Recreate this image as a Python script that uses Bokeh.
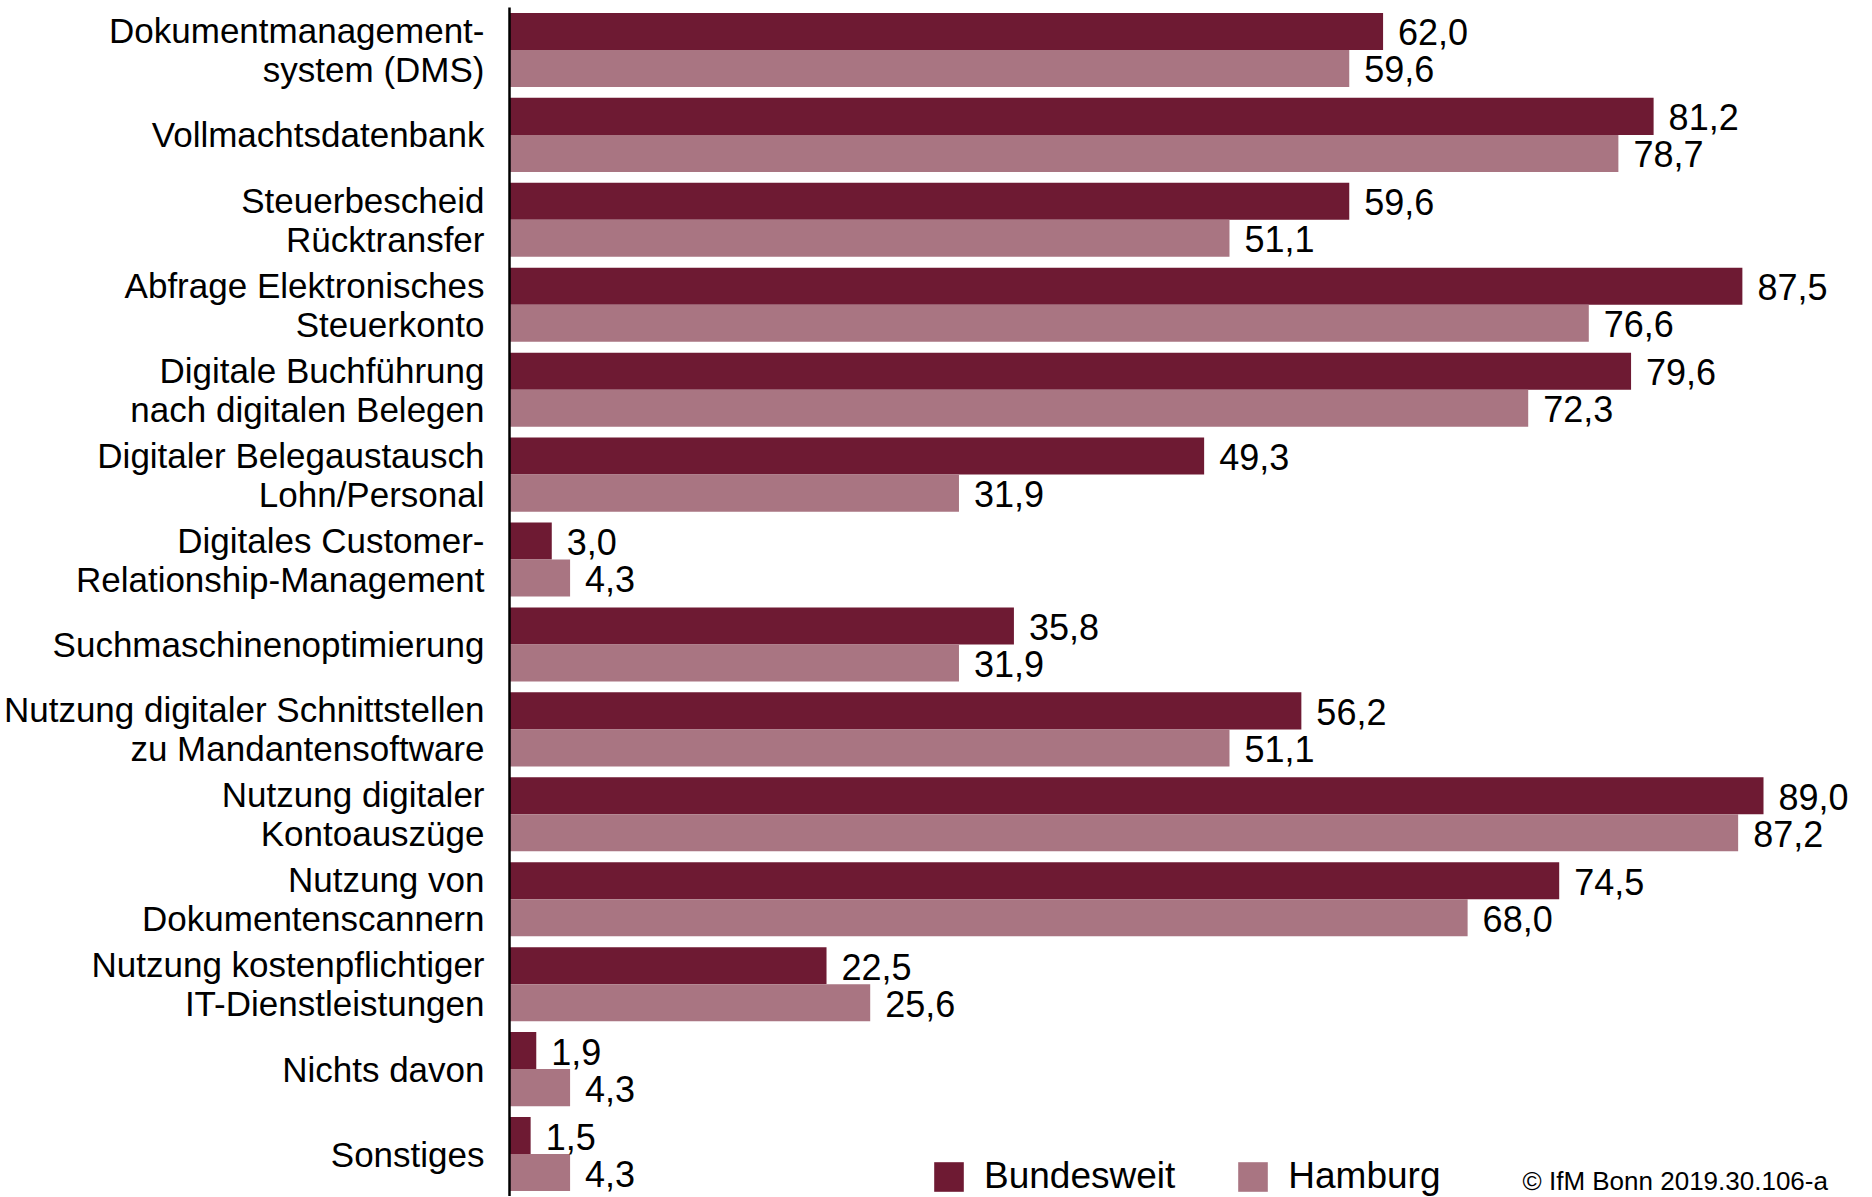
from bokeh.plotting import figure
from bokeh.models import ColumnDataSource, FactorRange, Range1d, Legend, LegendItem
from bokeh.transform import dodge
from bokeh.core.properties import value
from bokeh.embed import file_html
from bokeh.resources import INLINE

categories = [
    "Dokumentmanagement-\nsystem (DMS)",
    "Vollmachtsdatenbank",
    "Steuerbescheid\nRücktransfer",
    "Abfrage Elektronisches\nSteuerkonto",
    "Digitale Buchführung\nnach digitalen Belegen",
    "Digitaler Belegaustausch\nLohn/Personal",
    "Digitales Customer-\nRelationship-Management",
    "Suchmaschinenoptimierung",
    "Nutzung digitaler Schnittstellen\nzu Mandantensoftware",
    "Nutzung digitaler\nKontoauszüge",
    "Nutzung von\nDokumentenscannern",
    "Nutzung kostenpflichtiger\nIT-Dienstleistungen",
    "Nichts davon",
    "Sonstiges",
]
bundesweit = [62.0, 81.2, 59.6, 87.5, 79.6, 49.3, 3.0, 35.8, 56.2, 89.0, 74.5, 22.5, 1.9, 1.5]
hamburg = [59.6, 78.7, 51.1, 76.6, 72.3, 31.9, 4.3, 31.9, 51.1, 87.2, 68.0, 25.6, 4.3, 4.3]
series_names = ["Bundesweit", "Hamburg"]
copyright_text = "© IfM Bonn 2019.30.106-a"

DARK = "#6E1A33"
LIGHT = "#A97582"
FONT = "Liberation Sans"

def fmt(v):
    return f"{v:.1f}".replace(".", ",")

src = ColumnDataSource(dict(
    cat=categories,
    bw=bundesweit,
    hh=hamburg,
    bw_lbl=[fmt(v) for v in bundesweit],
    hh_lbl=[fmt(v) for v in hamburg],
))

W, H = 1866, 1196
LEFT = 509
p = figure(
    width=W, height=H,
    y_range=FactorRange(factors=list(reversed(categories))),
    x_range=Range1d(0, (W - LEFT) / 14.09),
    output_backend="svg", toolbar_location=None,
    min_border_left=LEFT, min_border_right=0, min_border_top=7, min_border_bottom=0,
)
p.outline_line_color = None
p.xgrid.visible = False
p.ygrid.visible = False
p.xaxis.visible = False

yax = p.yaxis[0]
yax.axis_line_color = "black"
yax.axis_line_width = 2.5
yax.major_tick_line_color = None
yax.minor_tick_line_color = None
yax.major_tick_in = 0
yax.major_tick_out = 0
yax.major_label_standoff = 25
yax.major_label_text_font = FONT
yax.major_label_text_font_size = "35px"
yax.major_label_text_color = "black"
yax.major_label_text_line_height = 1.0

bh = 0.436
off = bh / 2
r1 = p.hbar(y=dodge("cat", off, range=p.y_range), right="bw", left=0, height=bh,
            source=src, fill_color=DARK, line_color=None)
r2 = p.hbar(y=dodge("cat", -off, range=p.y_range), right="hh", left=0, height=bh,
            source=src, fill_color=LIGHT, line_color=None)

p.text(x="bw", y=dodge("cat", off, range=p.y_range), text="bw_lbl", source=src,
       x_offset=15, y_offset=1, text_baseline="middle", text_align="left",
       text_font=value(FONT), text_font_size="36px", text_color="black")
p.text(x="hh", y=dodge("cat", -off, range=p.y_range), text="hh_lbl", source=src,
       x_offset=15, y_offset=1, text_baseline="middle", text_align="left",
       text_font=value(FONT), text_font_size="36px", text_color="black")

csrc = ColumnDataSource(dict(x=[71.9], y=[categories[-1]], t=[copyright_text]))
p.text(x="x", y=dodge("y", -0.5, range=p.y_range), text="t", source=csrc,
       text_baseline="bottom", text_align="left", y_offset=-1,
       text_font=value(FONT), text_font_size="26px", text_color="black")

legend = Legend(
    items=[LegendItem(label=series_names[0], renderers=[r1]),
           LegendItem(label=series_names[1], renderers=[r2])],
    orientation="horizontal", location=(421, -1),
    glyph_width=37, glyph_height=37, label_standoff=17, spacing=59,
    padding=0, margin=0, border_line_color=None, background_fill_alpha=0,
    label_text_font=FONT, label_text_font_size="37px", label_text_color="black",
)
p.add_layout(legend)

open("out.html", "w").write(file_html(p, INLINE))
